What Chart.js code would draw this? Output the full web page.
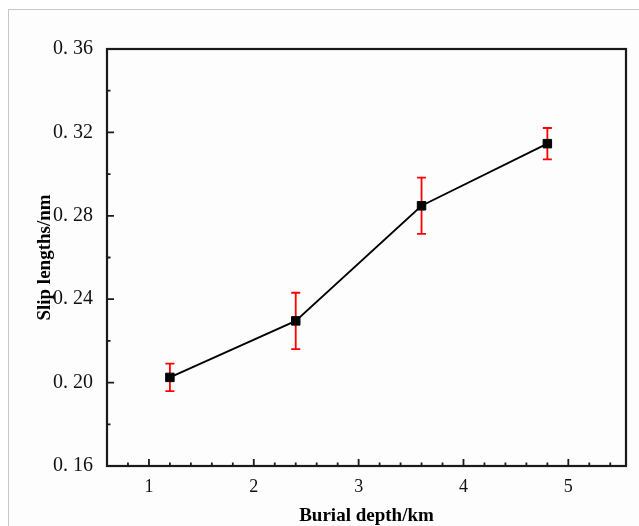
<!DOCTYPE html>
<html>
<head>
<meta charset="utf-8">
<script src="https://cdn.jsdelivr.net/npm/chart.js@4.4.1/dist/chart.umd.min.js"></script>
<style>
    body { margin: 0; background: #fff; }
    #wrap { position: relative; width: 639px; height: 526px; }
    #frame { position: absolute; left: 8px; top: 9px; right: 0; bottom: 0; border-top: 1px solid #c8c8c8; border-left: 1px solid #c8c8c8; background: #fdfdfd; }
    canvas { position: absolute; left: 0; top: 0; }
</style>
</head>
<body>
<div id="wrap">
    <div id="frame"></div>
    <canvas id="myChart" width="639" height="526"></canvas>
</div>
<script>
// dados
var depth = [1.2, 2.4, 3.6, 4.8]
var slip = [0.2025, 0.2296, 0.2848, 0.3146]
var slipErr = [0.0066, 0.0135, 0.0135, 0.0075]

var xTicks = [1, 2, 3, 4, 5]
var yTicks = [0.16, 0.20, 0.24, 0.28, 0.32, 0.36]

var serif = "'Liberation Serif', 'DejaVu Serif', serif"

// barras de erro + moldura com ticks para dentro
var errorBars = {
    id: 'errorBars',
    beforeDatasetsDraw(chart) {
        var ctx = chart.ctx
        var x = chart.scales.x, y = chart.scales.y
        ctx.save()
        ctx.strokeStyle = '#ff0000'
        ctx.lineWidth = 1.8
        depth.forEach((d, i) => {
            var px = x.getPixelForValue(d)
            var top = y.getPixelForValue(slip[i] + slipErr[i])
            var bot = y.getPixelForValue(slip[i] - slipErr[i])
            ctx.beginPath()
            ctx.moveTo(px, top); ctx.lineTo(px, bot)
            ctx.moveTo(px - 4.5, top); ctx.lineTo(px + 4.5, top)
            ctx.moveTo(px - 4.5, bot); ctx.lineTo(px + 4.5, bot)
            ctx.stroke()
        })
        ctx.restore()
    },
    afterDraw(chart) {
        var ctx = chart.ctx
        var a = chart.chartArea
        var x = chart.scales.x, y = chart.scales.y
        ctx.save()
        ctx.strokeStyle = '#1a1a1a'
        ctx.lineWidth = 2.2
        ctx.strokeRect(a.left, a.top, a.right - a.left, a.bottom - a.top)
        ctx.lineWidth = 1.8
        ctx.beginPath()
        // eixo x: principal a cada 1, secundário a cada 0.2
        for (var k = 4; k <= 27; k++) {
            var v = k * 0.2
            var px = x.getPixelForValue(v)
            if (px <= a.left + 1 || px >= a.right - 1) continue
            var len = (k % 5 === 0) ? 7 : 3.5
            ctx.moveTo(px, a.bottom); ctx.lineTo(px, a.bottom - len)
        }
        // eixo y: principal a cada 0.04, secundário a cada 0.02
        for (var j = 9; j <= 17; j++) {
            var val = j * 0.02
            var py = y.getPixelForValue(val)
            if (py <= a.top + 1 || py >= a.bottom - 1) continue
            var len2 = (j % 2 === 0) ? 7 : 3.5
            ctx.moveTo(a.left, py); ctx.lineTo(a.left + len2, py)
        }
        ctx.stroke()
        ctx.restore()
    }
}

var ctx = document.getElementById('myChart').getContext('2d')

var myChart = new Chart(ctx, {
    type: 'line',
    data: {
        datasets: [{
            label: 'Slip lengths',
            data: depth.map((d, i) => ({ x: d, y: slip[i] })),
            borderColor: '#000',
            backgroundColor: '#000',
            borderWidth: 1.8,
            pointStyle: 'rect',
            pointRadius: 6,
            pointBorderWidth: 1,
            tension: 0
        }]
    },
    options: {
        responsive: false,
        animation: false,
        layout: { padding: { top: 49, right: 13, left: 34, bottom: 0 } },
        plugins: { legend: { display: false }, tooltip: { enabled: false } },
        scales: {
            x: {
                type: 'linear',
                min: 0.6,
                max: 5.55,
                grid: { display: false, drawTicks: false },
                border: { display: false },
                afterBuildTicks: s => { s.ticks = xTicks.map(v => ({ value: v })) },
                afterFit: s => { s.height = 60 },
                ticks: {
                    color: '#111',
                    padding: 10,
                    font: { family: serif, size: 18 },
                    callback: v => String(v)
                },
                title: {
                    display: true,
                    text: 'Burial depth/km',
                    color: '#000',
                    padding: 0,
                    font: { family: serif, size: 19, weight: 'bold', lineHeight: 1 }
                }
            },
            y: {
                min: 0.16,
                max: 0.36,
                grid: { display: false, drawTicks: false },
                border: { display: false },
                afterBuildTicks: s => { s.ticks = yTicks.map(v => ({ value: v })) },
                afterFit: s => { s.width = 73 },
                ticks: {
                    color: '#111',
                    padding: 14,
                    font: { family: serif, size: 20 },
                    callback: v => v.toFixed(2).replace('.', '. ')
                },
                title: {
                    display: true,
                    text: 'Slip lengths/nm',
                    color: '#000',
                    padding: 0,
                    font: { family: serif, size: 19, weight: 'bold' }
                }
            }
        }
    },
    plugins: [errorBars]
})
</script>
</body>
</html>
